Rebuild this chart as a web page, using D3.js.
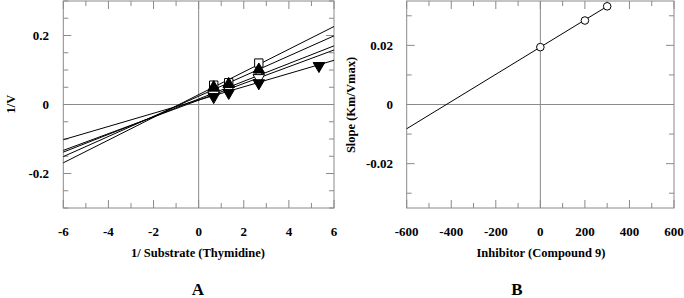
<!DOCTYPE html>
<html>
<head>
<meta charset="utf-8">
<script src="https://cdn.jsdelivr.net/npm/d3@7"></script>
<style>
  body { margin: 0; background: #fff; }
  text { font-family: "Liberation Serif", "Times New Roman", serif; font-weight: bold; }
</style>
</head>
<body>
<div id="chart"></div>
<script>
// panel A: Lineweaver-Burk, 1/V vs 1/[thymidine]
const xPoints = [0.667, 1.333, 2.667, 5.333];
const squareY = [0.056, 0.063, 0.120];
const triUpY = [0.050, 0.059, 0.101];
const diamondY = [0.033, 0.049, 0.085];
const triDownOpenY = [0.029, 0.045, 0.077];
const triDownY = [0.022, 0.034, 0.062, 0.112];
// fitted lines, y read at x=-6 and x=6
const lineLeftY = [-0.169, -0.151, -0.138, -0.133, -0.102];
const lineRightY = [0.226, 0.199, 0.170, 0.158, 0.128];
const xTicksA = [-6, -4, -2, 0, 2, 4, 6];
const yTicksA = [-0.2, 0, 0.2];

// panel B: slope replot
const inhibitor = [0, 200, 300];
const slopeVals = [0.0194, 0.0284, 0.0332];
const fitX = [-600, 300];
const fitY = [-0.0082, 0.0332];
const xTicksB = [-600, -400, -200, 0, 200, 400, 600];
const yTicksB = [-0.02, 0, 0.02];

const width = 684, height = 298;
const svg = d3.select('#chart').append('svg')
  .attr('width', width)
  .attr('height', height);

const gray = '#8a8a8a';

function frame(x, y, minorX, minorY) {
  const g = svg.append('g');
  const [x0, x1] = x.range();
  const [y0, y1] = y.range();
  g.append('rect')
    .attr('x', x0).attr('y', y1)
    .attr('width', x1 - x0).attr('height', y0 - y1)
    .attr('fill', 'none').attr('stroke', gray);
  // zero lines
  g.append('line').attr('x1', x(0)).attr('x2', x(0)).attr('y1', y0).attr('y2', y1)
    .attr('stroke', gray);
  g.append('line').attr('x1', x0).attr('x2', x1).attr('y1', y(0)).attr('y2', y(0))
    .attr('stroke', gray);
  // ticks on all sides
  minorX.forEach(v => {
    const len = v.major ? 8 : 5;
    [[y0, -len], [y1, len]].forEach(([yy, d]) => {
      g.append('line').attr('x1', x(v.v)).attr('x2', x(v.v))
        .attr('y1', yy).attr('y2', yy + d).attr('stroke', gray);
    });
  });
  minorY.forEach(v => {
    const len = v.major ? 8 : 5;
    [[x0, len], [x1, -len]].forEach(([xx, d]) => {
      g.append('line').attr('y1', y(v.v)).attr('y2', y(v.v))
        .attr('x1', xx).attr('x2', xx + d).attr('stroke', gray);
    });
  });
  return g;
}

// ---------- Panel A ----------
const xA = d3.scaleLinear().domain([-6, 6]).range([63.3, 334]);
const yA = d3.scaleLinear().domain([-0.3, 0.3]).range([208, 1]);

frame(xA, yA,
  d3.range(-6, 7, 1).map(v => ({v, major: v % 2 === 0})),
  d3.range(-0.3, 0.3001, 0.05).map(v => ({v, major: Math.abs(Math.round(v * 100)) % 20 === 0})));

svg.append('g').selectAll('line')
  .data(lineLeftY.map((l, i) => [l, lineRightY[i]]))
  .enter().append('line')
  .attr('x1', xA(-6)).attr('x2', xA(6))
  .attr('y1', d => yA(d[0])).attr('y2', d => yA(d[1]))
  .attr('stroke', '#000').attr('stroke-width', 1);

const symSquare = d3.symbol().type(d3.symbolSquare).size(70);
const symTri = d3.symbol().type(d3.symbolTriangle).size(58);
const symDiamond = d3.symbol().type(d3.symbolDiamond).size(50);

function markers(vals, sym, fill, rot) {
  svg.append('g').selectAll('path')
    .data(vals)
    .enter().append('path')
    .attr('d', sym)
    .attr('transform', (d, i) => `translate(${xA(xPoints[i])},${yA(d)}) rotate(${rot})`)
    .attr('fill', fill).attr('stroke', '#000').attr('stroke-width', 1);
}
markers(squareY, symSquare, '#fff', 0);
markers(diamondY, symDiamond, '#fff', 0);
markers(triDownOpenY, symTri, '#fff', 180);
markers(triUpY, symTri, '#000', 0);
markers(triDownY, symTri, '#000', 180);

svg.append('g').selectAll('text')
  .data(xTicksA).enter().append('text')
  .attr('x', d => xA(d)).attr('y', 236)
  .attr('text-anchor', 'middle').attr('font-size', 13)
  .text(d => d);
svg.append('g').selectAll('text')
  .data(yTicksA).enter().append('text')
  .attr('x', 49).attr('y', d => yA(d) + 4.5)
  .attr('text-anchor', 'end').attr('font-size', 13)
  .text(d => d);

svg.append('text')
  .attr('x', 198).attr('y', 257)
  .attr('text-anchor', 'middle').attr('font-size', 12.5)
  .text('1/ Substrate (Thymidine)');
svg.append('text')
  .attr('transform', 'translate(15,104) rotate(-90)')
  .attr('text-anchor', 'middle').attr('font-size', 12.5)
  .text('1/V');
svg.append('text')
  .attr('x', 198).attr('y', 295)
  .attr('text-anchor', 'middle').attr('font-size', 17)
  .text('A');

// ---------- Panel B ----------
const xB = d3.scaleLinear().domain([-600, 600]).range([406.7, 674]);
const yB = d3.scaleLinear().domain([-0.035, 0.035]).range([208, 1]);

frame(xB, yB,
  d3.range(-600, 601, 100).map(v => ({v, major: v % 200 === 0})),
  d3.range(-0.03, 0.0301, 0.01).map(v => ({v, major: Math.abs(Math.round(v * 1000)) % 20 === 0})));

svg.append('line')
  .attr('x1', xB(fitX[0])).attr('x2', xB(fitX[1]))
  .attr('y1', yB(fitY[0])).attr('y2', yB(fitY[1]))
  .attr('stroke', '#000');

svg.append('g').selectAll('circle')
  .data(inhibitor).enter().append('circle')
  .attr('cx', d => xB(d)).attr('cy', (d, i) => yB(slopeVals[i]))
  .attr('r', 3.8)
  .attr('fill', '#fff').attr('stroke', '#000');

svg.append('g').selectAll('text')
  .data(xTicksB).enter().append('text')
  .attr('x', d => xB(d)).attr('y', 236)
  .attr('text-anchor', 'middle').attr('font-size', 13)
  .text(d => d);
svg.append('g').selectAll('text')
  .data(yTicksB).enter().append('text')
  .attr('x', 393).attr('y', d => yB(d) + 4.5)
  .attr('text-anchor', 'end').attr('font-size', 13)
  .text(d => d);

svg.append('text')
  .attr('x', 541).attr('y', 257)
  .attr('text-anchor', 'middle').attr('font-size', 12.5)
  .text('Inhibitor (Compound 9)');
svg.append('text')
  .attr('transform', 'translate(355,105) rotate(-90)')
  .attr('text-anchor', 'middle').attr('font-size', 12.5)
  .text('Slope (Km/Vmax)');
svg.append('text')
  .attr('x', 517).attr('y', 295)
  .attr('text-anchor', 'middle').attr('font-size', 17)
  .text('B');
</script>
</body>
</html>
